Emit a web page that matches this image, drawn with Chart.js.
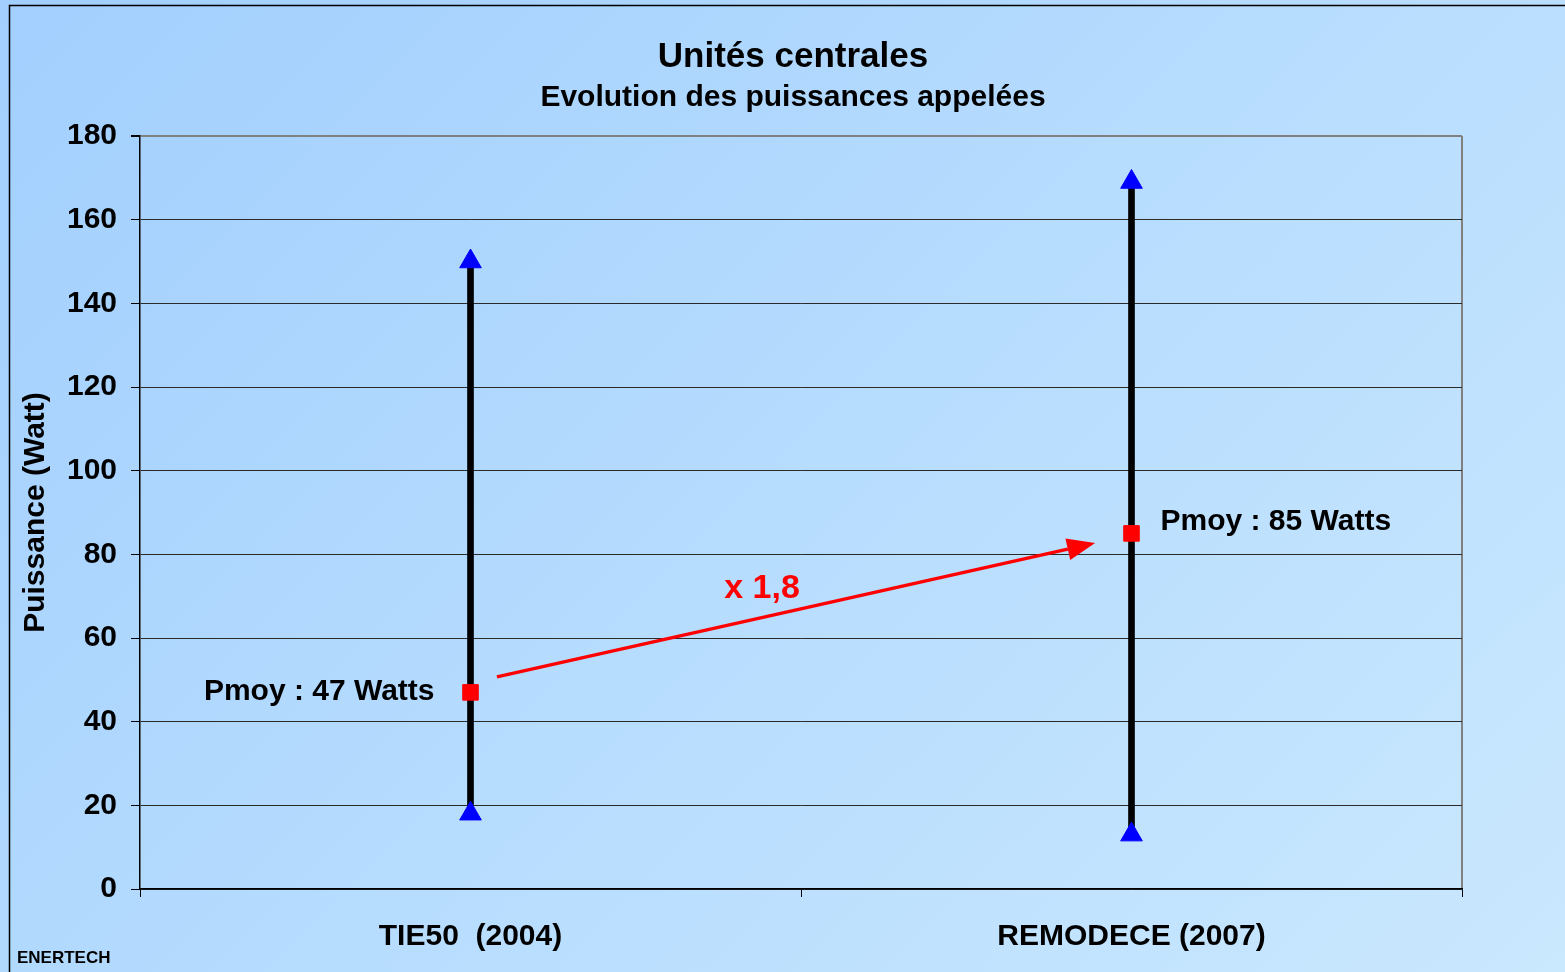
<!DOCTYPE html>
<html>
<head>
<meta charset="utf-8">
<title>Unités centrales</title>
<script src="https://cdn.jsdelivr.net/npm/chart.js@4.4.1/dist/chart.umd.min.js"></script>
<style>
  html, body { margin: 0; padding: 0; overflow: hidden; }
  body { background: linear-gradient(135deg, #a2cffe 0%, #b6dcfe 50%, #cae8fe 100%); }
  #wrap { width: 1565px; height: 972px; position: relative; }
</style>
</head>
<body>
<div id="wrap"><canvas id="myChart"></canvas></div>
<script>
// données
const categories = ['TIE50  (2004)', 'REMODECE (2007)'];
const pMin = [18, 13];
const pMax = [150, 169];
const pMoy = [47, 85];
const yTicks = [0, 20, 40, 60, 80, 100, 120, 140, 160, 180];

const FONT = 'Liberation Sans, Arial, sans-serif';

// flèche rouge + textes annotés + cadre
const annotations = {
  id: 'annotations',
  beforeDraw(chart) {
    const { ctx, chartArea } = chart;
    ctx.save();
    // cadre extérieur
    ctx.strokeStyle = '#000';
    ctx.lineWidth = 1.5;
    ctx.beginPath();
    ctx.moveTo(9.5, chart.height);
    ctx.lineTo(9.5, 5.5);
    ctx.lineTo(chart.width, 5.5);
    ctx.stroke();
    // bord droit de la zone de tracé
    ctx.strokeStyle = '#808080';
    ctx.lineWidth = 2;
    ctx.beginPath();
    ctx.moveTo(chartArea.right, chartArea.top);
    ctx.lineTo(chartArea.right, chartArea.bottom);
    ctx.stroke();
    ctx.restore();
  },
  afterDatasetsDraw(chart) {
    const { ctx } = chart;
    const x = chart.scales.x, y = chart.scales.y;
    ctx.save();

    // flèche (coordonnées en unités du graphique)
    const x1 = x.getPixelForValue(0.04), y1 = y.getPixelForValue(50.7);
    const x2 = x.getPixelForValue(0.945), y2 = y.getPixelForValue(82.7);
    const ang = Math.atan2(y2 - y1, x2 - x1);
    const headLen = 28, headW = 11;
    const bx = x2 - Math.cos(ang) * headLen, by = y2 - Math.sin(ang) * headLen;
    ctx.strokeStyle = '#ff0000';
    ctx.fillStyle = '#ff0000';
    ctx.lineWidth = 3.5;
    ctx.beginPath();
    ctx.moveTo(x1, y1);
    ctx.lineTo(bx, by);
    ctx.stroke();
    ctx.beginPath();
    ctx.moveTo(x2, y2);
    ctx.lineTo(bx + Math.sin(ang) * headW, by - Math.cos(ang) * headW);
    ctx.lineTo(bx - Math.sin(ang) * headW, by + Math.cos(ang) * headW);
    ctx.closePath();
    ctx.fill();

    // facteur
    ctx.font = 'bold 34px ' + FONT;
    ctx.textAlign = 'center';
    ctx.textBaseline = 'middle';
    ctx.fillText('x ' + (pMoy[1] / pMoy[0]).toFixed(1).replace('.', ','), x.getPixelForValue(0.441), y.getPixelForValue(72.2) + 2);

    // étiquettes Pmoy
    ctx.fillStyle = '#000';
    ctx.font = 'bold 30px ' + FONT;
    ctx.textAlign = 'right';
    ctx.fillText('Pmoy : ' + pMoy[0] + ' Watts', x.getPixelForValue(0) - 36, y.getPixelForValue(pMoy[0]) - 1);
    ctx.textAlign = 'left';
    ctx.fillText('Pmoy : ' + pMoy[1] + ' Watts', x.getPixelForValue(1) + 29, y.getPixelForValue(pMoy[1]) - 12);

    // signature
    ctx.font = 'bold 17px ' + FONT;
    ctx.fillText('ENERTECH', 17, 958);
    ctx.restore();
  }
};

window.addEventListener('DOMContentLoaded', () => {
  const ctx = document.getElementById('myChart').getContext('2d');
  new Chart(ctx, {
    type: 'bar',
    data: {
      labels: categories,
      datasets: [
        {
          label: 'Plage',
          data: pMin.map((v, i) => [v, pMax[i]]),
          backgroundColor: '#000',
          barThickness: 6,
          order: 3
        },
        {
          type: 'line',
          label: 'Pmax',
          data: pMax,
          showLine: false,
          pointStyle: 'triangle',
          pointRadius: 12.5,
          pointBackgroundColor: '#0000ff',
          pointBorderColor: '#0000ff',
          order: 2
        },
        {
          type: 'line',
          label: 'Pmin',
          data: pMin,
          showLine: false,
          pointStyle: 'triangle',
          pointRadius: 12.5,
          pointBackgroundColor: '#0000ff',
          pointBorderColor: '#0000ff',
          order: 2
        },
        {
          type: 'line',
          label: 'Pmoy',
          data: pMoy,
          showLine: false,
          pointStyle: 'rect',
          pointRadius: 11,
          pointBackgroundColor: '#ff0000',
          pointBorderColor: '#ff0000',
          order: 1
        }
      ]
    },
    options: {
      responsive: true,
      maintainAspectRatio: false,
      animation: false,
      layout: { padding: { left: 21, right: 0, top: 0, bottom: 0 } },
      plugins: {
        legend: { display: false },
        tooltip: { enabled: false },
        title: {
          display: true,
          text: 'Unités centrales',
          color: '#000',
          font: { family: FONT, size: 35, weight: 'bold', lineHeight: 1.2 },
          padding: { top: 36, bottom: 0 }
        },
        subtitle: {
          display: true,
          text: 'Evolution des puissances appelées',
          color: '#000',
          font: { family: FONT, size: 30, weight: 'bold', lineHeight: 1.2 },
          padding: { top: 2, bottom: 20 }
        }
      },
      scales: {
        x: {
          offset: true,
          grid: {
            offset: true,
            drawOnChartArea: false,
            tickLength: 8,
            tickColor: '#000'
          },
          border: { color: '#000', width: 1.5 },
          ticks: {
            color: '#000',
            padding: 22,
            font: { family: FONT, size: 30, weight: 'bold' }
          },
          afterFit(scale) { scale.height = 83; }
        },
        y: {
          min: 0,
          max: 180,
          afterBuildTicks(scale) { scale.ticks = yTicks.map(v => ({ value: v })); },
          grid: {
            color: c => c.tick && c.tick.value === 180 ? '#808080' : '#2a2a2a',
            lineWidth: c => c.tick && c.tick.value === 180 ? 2 : 1,
            tickLength: 9,
            tickColor: '#000'
          },
          border: { color: '#000', width: 1.5 },
          ticks: {
            color: '#000',
            padding: 14,
            font: { family: FONT, size: 30, weight: 'bold' }
          },
          title: {
            display: true,
            text: 'Puissance (Watt)',
            color: '#000',
            font: { family: FONT, size: 30, weight: 'bold', lineHeight: 1.0 },
            padding: { top: 0, bottom: 0 }
          },
          afterFit(scale) { scale.width = 119; }
        },
        // marge droite (axe vide) pour garder le titre centré comme l'original
        yRight: {
          position: 'right',
          display: true,
          grid: { display: false },
          border: { display: false },
          ticks: { display: false },
          afterFit(scale) { scale.width = 103; }
        }
      }
    },
    plugins: [annotations]
  });
});
</script>
</body>
</html>
